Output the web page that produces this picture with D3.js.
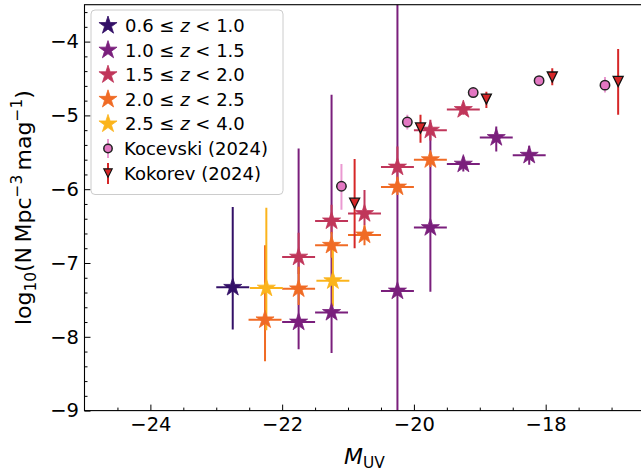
<!DOCTYPE html>
<html><head><meta charset="utf-8">
<script src="https://cdn.jsdelivr.net/npm/d3@7"></script>
<style>
body{margin:0;background:#fff}
svg{display:block}
text{font-family:"DejaVu Sans",sans-serif;fill:#000}
</style>
</head><body>
<svg id="c" width="641" height="474"></svg>
<script>
// ---------- data ----------
const zLow  = ["0.6","1.0","1.5","2.0","2.5"];
const zHigh = ["1.0","1.5","2.0","2.5","4.0"];
const zColors = ["#331067","#7a1f7c","#c0365a","#f06b25","#fbb41c"];

// 0.6 <= z < 1.0
const magZ1 = [-22.75];
const logNZ1 = [-7.33];
const upZ1 = [-6.24];
const loZ1 = [-7.90];
// 1.0 <= z < 1.5
const magZ2 = [-21.75,-21.25,-20.25,-19.75,-19.25,-18.75,-18.25];
const logNZ2 = [-7.80,-7.67,-7.38,-6.52,-5.66,-5.30,-5.54];
const upZ2 = [-5.45,-4.72,-3.0,-5.10,-5.56,-5.15,-5.41];
const loZ2 = [-8.17,-8.22,-10.0,-7.39,-5.76,-5.49,-5.67];
// 1.5 <= z < 2.0
const magZ3 = [-21.75,-21.25,-20.75,-20.25,-19.75,-19.25];
const logNZ3 = [-6.92,-6.43,-6.33,-5.70,-5.20,-4.92];
const upZ3 = [-6.59,-6.21,-6.01,-5.42,-5.06,-4.85];
const loZ3 = [-7.15,-6.60,-6.49,-5.88,-5.34,-4.99];
// 2.0 <= z < 2.5
const magZ4 = [-22.26,-21.75,-21.25,-20.75,-20.25,-19.75];
const logNZ4 = [-7.77,-7.35,-6.76,-6.62,-5.97,-5.60];
const upZ4 = [-6.76,-7.05,-6.58,-6.49,-5.83,-5.50];
const loZ4 = [-8.33,-7.57,-6.93,-6.76,-6.08,-5.70];
// 2.5 <= z < 4.0
const magZ5 = [-22.24,-21.23];
const logNZ5 = [-7.34,-7.24];
const upZ5 = [-6.25,-6.82];
const loZ5 = [-7.91,-7.59];
const magHalfWidth = 0.25;

// Kocevski (2024)
const magKoc = [-21.1,-20.1,-19.1,-18.1,-17.1];
const logNKoc = [-5.96,-5.09,-4.69,-4.53,-4.59];
const upKoc = [-5.66,-4.99,-4.64,-4.48,-4.48];
const loKoc = [-6.28,-5.19,-4.74,-4.58,-4.69];
// Kokorev (2024)
const magKok = [-20.9,-19.9,-18.9,-17.9,-16.9];
const logNKok = [-6.19,-5.17,-4.78,-4.48,-4.54];
const upKok = [-5.59,-4.99,-4.68,-4.36,-4.10];
const loKok = [-6.80,-5.37,-4.90,-4.59,-4.99];

const xMajor = [-24,-22,-20,-18];
const yMajor = [-9,-8,-7,-6,-5,-4];

// ---------- layout ----------
const svg = d3.select("#c");
const L = 84.5, R = 644.5, T = 4.7, B = 410.6;
const x = d3.scaleLinear().domain([-25,-16.5]).range([L,R]);
const y = d3.scaleLinear().domain([-9,-3.5]).range([B,T]);
const fmt = d => (d<0?"\u2212":"") + Math.abs(d);

svg.append("defs").append("clipPath").attr("id","clip")
  .append("rect").attr("x",L).attr("y",T).attr("width",R-L).attr("height",B-T);

const xMinor = d3.range(-24.5,-16.6,0.5).filter(v => !xMajor.some(m => Math.abs(m-v)<1e-6));
const yMinor = d3.range(-8.8,-3.55,0.2).map(v => +v.toFixed(1)).filter(v => Math.abs(v-Math.round(v))>1e-6);

// axes
const gx = svg.append("g").attr("transform",`translate(0,${B})`)
  .call(d3.axisBottom(x).tickValues(xMajor).tickSizeInner(-6).tickSizeOuter(0).tickPadding(7).tickFormat(fmt));
const gxm = svg.append("g").attr("transform",`translate(0,${B})`)
  .call(d3.axisBottom(x).tickValues(xMinor).tickSizeInner(-3).tickSizeOuter(0).tickFormat(""));
const gy = svg.append("g").attr("transform",`translate(${L},0)`)
  .call(d3.axisLeft(y).tickValues(yMajor).tickSizeInner(-6).tickSizeOuter(0).tickPadding(5.5).tickFormat(fmt));
const gym = svg.append("g").attr("transform",`translate(${L},0)`)
  .call(d3.axisLeft(y).tickValues(yMinor).tickSizeInner(-3).tickSizeOuter(0).tickFormat(""));
[gx,gxm,gy,gym].forEach(g => {
  g.select(".domain").remove();
  g.selectAll("line").attr("stroke","#000").attr("stroke-width",1);
  g.selectAll("text").attr("font-size",19.5).attr("font-family","DejaVu Sans").attr("fill","#000");
});

// data layer
const plot = svg.append("g").attr("clip-path","url(#clip)");
const series = [
  {mag:magZ1, v:logNZ1, up:upZ1, lo:loZ1, color:zColors[0], kind:"star"},
  {mag:magZ2, v:logNZ2, up:upZ2, lo:loZ2, color:zColors[1], kind:"star"},
  {mag:magZ3, v:logNZ3, up:upZ3, lo:loZ3, color:zColors[2], kind:"star"},
  {mag:magZ4, v:logNZ4, up:upZ4, lo:loZ4, color:zColors[3], kind:"star"},
  {mag:magZ5, v:logNZ5, up:upZ5, lo:loZ5, color:zColors[4], kind:"star"},
  {mag:magKoc, v:logNKoc, up:upKoc, lo:loKoc, color:"#e377c2", kind:"circle"},
  {mag:magKok, v:logNKok, up:upKok, lo:loKok, color:"#d62728", kind:"tri"}
];
const starR = 9.5;
const starPath = d3.symbol().type(d3.symbolStar).size(starR*starR/0.8908130915292852)();
const triPath = "M-5,-5L5,-5L0,5Z";

// error bars first (lower zorder)
series.forEach(s => {
  const g = plot.append("g").attr("stroke",s.color).attr("stroke-width",2)
    .attr("stroke-opacity", s.kind==="circle"?0.75:1);
  s.mag.forEach((m,i) => {
    g.append("line").attr("x1",x(m)).attr("x2",x(m)).attr("y1",y(s.up[i])).attr("y2",y(s.lo[i]));
    if (s.kind==="star")
      g.append("line").attr("x1",x(m-magHalfWidth)).attr("x2",x(m+magHalfWidth)).attr("y1",y(s.v[i])).attr("y2",y(s.v[i]));
  });
});
// markers
series.forEach(s => {
  const g = plot.append("g");
  s.mag.forEach((m,i) => {
    const t = `translate(${x(m)},${y(s.v[i])})`;
    if (s.kind==="star")
      g.append("path").attr("d",starPath).attr("transform",t).attr("fill",s.color).attr("stroke",s.color).attr("stroke-width",0.8);
    else if (s.kind==="circle")
      g.append("circle").attr("cx",x(m)).attr("cy",y(s.v[i])).attr("r",4.7).attr("fill",s.color).attr("stroke","#222").attr("stroke-width",1.5);
    else
      g.append("path").attr("d",triPath).attr("transform",t).attr("fill",s.color).attr("stroke","#111").attr("stroke-width",1.3).attr("stroke-linejoin","miter");
  });
});

// frame
svg.append("rect").attr("x",L).attr("y",T).attr("width",R-L).attr("height",B-T)
  .attr("fill","none").attr("stroke","#000").attr("stroke-width",1.1);

// axis labels
const xl = svg.append("text").attr("x",(L+R)/2).attr("y",464).attr("text-anchor","middle").attr("font-size",22);
xl.append("tspan").attr("font-style","italic").text("M");
xl.append("tspan").attr("font-size",15.4).attr("dy",4).text("UV");

const yl = svg.append("text").attr("transform",`translate(31,${(T+B)/2}) rotate(-90)`).attr("text-anchor","middle").attr("font-size",22);
yl.append("tspan").text("log");
yl.append("tspan").attr("font-size",15.4).attr("dy",5).text("10");
yl.append("tspan").attr("dy",-5).text("(N\u2009Mpc");
yl.append("tspan").attr("font-size",15.4).attr("dy",-9).text("\u22123");
yl.append("tspan").attr("dy",9).text("\u2009mag");
yl.append("tspan").attr("font-size",15.4).attr("dy",-9).text("\u22121");
yl.append("tspan").attr("dy",9).text(")");

// legend
const lg = svg.append("g");
lg.append("rect").attr("x",91).attr("y",10).attr("width",192).attr("height",184.5).attr("rx",4)
  .attr("fill","#fff").attr("fill-opacity",0.8).attr("stroke","#cccccc").attr("stroke-width",1);
const rowY = i => 25.5 + i*24.6;
const mx = 108, tx = 125;
zLow.forEach((lo,i) => {
  lg.append("path").attr("d",starPath).attr("transform",`translate(${mx},${rowY(i)})`)
    .attr("fill",zColors[i]).attr("stroke",zColors[i]).attr("stroke-width",0.8);
  const t = lg.append("text").attr("x",tx).attr("y",rowY(i)+6.5).attr("font-size",18);
  t.append("tspan").text(lo + " \u2264 ");
  t.append("tspan").attr("font-style","italic").text("z");
  t.append("tspan").text(" < " + zHigh[i]);
});
// Kocevski
lg.append("line").attr("x1",mx).attr("x2",mx).attr("y1",rowY(5)-9.5).attr("y2",rowY(5)+9.5)
  .attr("stroke","#e377c2").attr("stroke-width",2).attr("stroke-opacity",0.75);
lg.append("circle").attr("cx",mx).attr("cy",rowY(5)).attr("r",4.2).attr("fill","#e377c2").attr("stroke","#222").attr("stroke-width",1.5);
lg.append("text").attr("x",tx-1).attr("y",rowY(5)+6.5).attr("font-size",18).text("Kocevski (2024)");
// Kokorev
lg.append("line").attr("x1",mx).attr("x2",mx).attr("y1",rowY(6)-10).attr("y2",rowY(6)+11)
  .attr("stroke","#d62728").attr("stroke-width",2);
lg.append("path").attr("d",triPath).attr("transform",`translate(${mx},${rowY(6)}) scale(0.85)`)
  .attr("fill","#d62728").attr("stroke","#111").attr("stroke-width",1.3);
lg.append("text").attr("x",tx-1).attr("y",rowY(6)+6.5).attr("font-size",18).text("Kokorev (2024)");
</script>
</body></html>
